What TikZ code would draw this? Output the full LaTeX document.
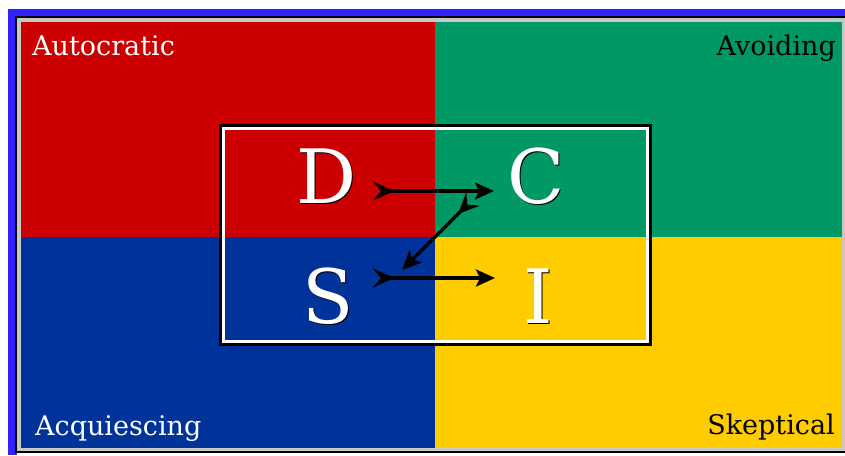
\documentclass[tikz,border=0pt]{standalone}
\usepackage{fontspec}
\newfontfamily\dvserif{DejaVu Serif}
\usetikzlibrary{arrows.meta}
\definecolor{qred}{RGB}{204,0,0}
\definecolor{qgreen}{RGB}{0,153,102}
\definecolor{qblue}{RGB}{0,51,153}
\definecolor{qyellow}{RGB}{255,204,0}
\definecolor{frameblue}{RGB}{51,34,255}
\definecolor{framegrey}{RGB}{200,200,200}
\begin{document}
\begin{tikzpicture}[x=1pt,y=-1pt,
  bigletter/.style={font=\dvserif\fontsize{75}{75}\selectfont, inner sep=0pt, anchor=base, text=white},
  bigshadow/.style={font=\dvserif\fontsize{75}{75}\selectfont, inner sep=0pt, anchor=base, text=black},
  label/.style={font=\dvserif\fontsize{27}{27}\selectfont, inner sep=0pt},
  flow/.style={line width=3.2pt,
    {Stealth[reversed,length=21pt,width=19pt,inset=8pt]}-{Stealth[length=19pt,width=17pt,inset=4pt]}}]
  \useasboundingbox (0,0) rectangle (845,455);
  \fill[white] (0,0) rectangle (845,455);
  \fill[frameblue] (8,9) rectangle (845,455);
  \fill[black] (15,16) rectangle (845,453);
  \fill[white] (17,453) rectangle (845,455);
  \fill[framegrey] (17,18) rectangle (845,451);
  % quadrants
  \fill[qred]    (21,22) rectangle (435,237);
  \fill[qgreen]  (435,22) rectangle (842,237);
  \fill[qblue]   (21,237) rectangle (435,448);
  \fill[qyellow] (435,237) rectangle (842,448);
  % inner frame
  \draw[black, line width=2.2pt] (220.5,125.5) rectangle (650.5,344.5);
  \draw[white, line width=2.6pt] (223.5,128.5) rectangle (647.5,341.5);
  % corner labels
  \node[label, text=white, anchor=base west] (auto) at (32,55) {Autocratic};
  \node[label, text=black, anchor=base east] (avoid) at (836,55) {Avoiding};
  \node[label, text=white, anchor=base west] (acq) at (35,435) {Acquiescing};
  \node[label, text=black, anchor=base east] (skep) at (835,434) {Skeptical};
  % letters with shadows
  \node[bigshadow] (Ds) at (328,204.5) {D};
  \node[bigletter] (D) at (326.5,203) {D};
  \node[bigshadow] (Cs) at (537.5,204.5) {C};
  \node[bigletter] (C) at (536,203) {C};
  \node[bigshadow] (Ss) at (329.5,324.5) {S};
  \node[bigletter] (S) at (328,323) {S};
  \node[bigshadow] (Is) at (539.5,324.5) {I};
  \node[bigletter] (I) at (538,323) {I};
  % arrows
  \coordinate (dcTail) at (373,191);
  \coordinate (dcHead) at (494,191);
  \coordinate (csTail) at (473,199);
  \coordinate (csHead) at (402,270);
  \coordinate (siTail) at (373,278);
  \coordinate (siHead) at (495,278);
  \draw[flow] (dcTail) -- (dcHead);
  \draw[flow] (csTail) -- (csHead);
  \draw[flow] (siTail) -- (siHead);
\end{tikzpicture}
\end{document}
